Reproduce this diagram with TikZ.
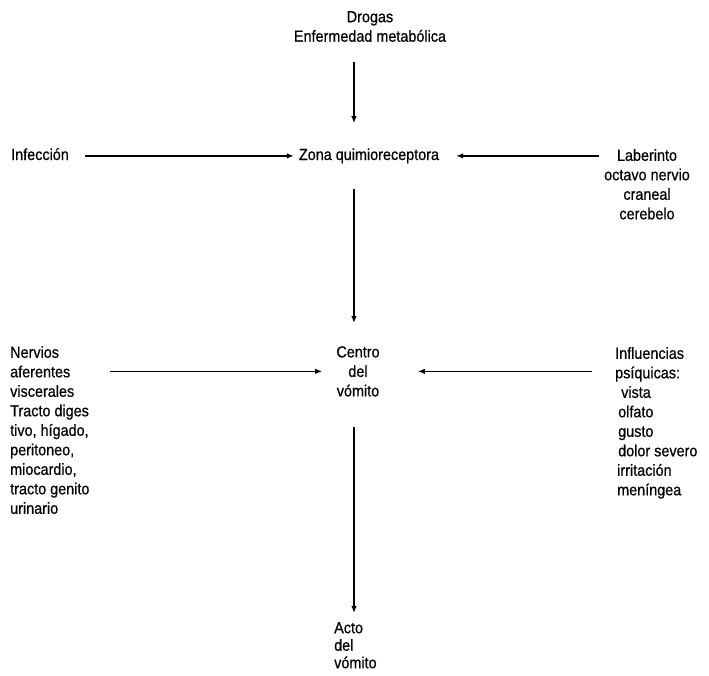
\documentclass[tikz,border=0pt]{standalone}
\usepackage{fontspec}
\setmainfont{Liberation Sans}[FakeStretch=0.9,FakeBold=0.6]
\usepackage{tikz}
\usetikzlibrary{arrows.meta,positioning}
\tikzset{textnode/.style={inner sep=0pt,font=\fontsize{16}{19.5}\selectfont},
  flowarrow/.style={->,line width=1.3pt}}

\begin{document}
\begin{tikzpicture}[>={Latex[length=7pt,width=5.5pt]},x=1pt,y=-1pt]
    \useasboundingbox (0,0) rectangle (709,675);
    \coordinate (axis) at (354,0);

    \node[textnode,align=center,anchor=north] (drogas) at (370,11) {Drogas\\Enfermedad metabólica};
    \node[textnode,anchor=base] (zona) at (369,160) {Zona quimioreceptora};
    \node[textnode,anchor=base west] (infeccion) at (11,160) {Infección};
    \node[textnode,align=center,anchor=north] (laberinto) at (647,149) {Laberinto\\octavo nervio\\craneal\\cerebelo};
    \node[textnode,align=center,anchor=north] (centro) at (358,346) {Centro\\del\\vómito};
    \node[textnode,align=left,anchor=north west] (nervios) at (10,346)
      {Nervios\\aferentes\\viscerales\\Tracto diges\\tivo, hígado,\\peritoneo,\\miocardio,\\tracto genito\\urinario};
    \node[textnode,align=left,anchor=north west] (influencias) at (615,347)
      {Influencias\\psíquicas:\\\hspace*{6pt}vista\\\hspace*{3pt}olfato\\\hspace*{3pt}gusto\\\hspace*{3pt}dolor severo\\\hspace*{2pt}irritación\\\hspace*{2pt}meníngea};
    \node[textnode,align=left,anchor=north west,font=\fontsize{16}{17.5}\selectfont] (acto) at (334,622) {Acto\\del\\vómito};

    \draw[flowarrow,shorten <=20pt,shorten >=25pt] (drogas.south -| axis) -- (zona.north -| axis);
    \draw[flowarrow,shorten <=16pt,shorten >=5pt] (infeccion.east |- zona) -- (zona.west);
    \draw[flowarrow,shorten <=5pt,shorten >=17pt] (zona -| laberinto.west) -- (zona.east);
    \draw[flowarrow,shorten <=25pt,shorten >=23pt] (zona.south -| axis) -- (centro.north -| axis);
    \draw[flowarrow,shorten <=20pt,shorten >=14pt] (centro -| nervios.east) -- (centro.west);
    \draw[flowarrow,shorten <=23pt,shorten >=38pt] (centro -| influencias.west) -- (centro.east);
    \draw[flowarrow,shorten <=30pt,shorten >=9pt] (centro.south -| axis) -- (acto.north -| axis);
\end{tikzpicture}
\end{document}
